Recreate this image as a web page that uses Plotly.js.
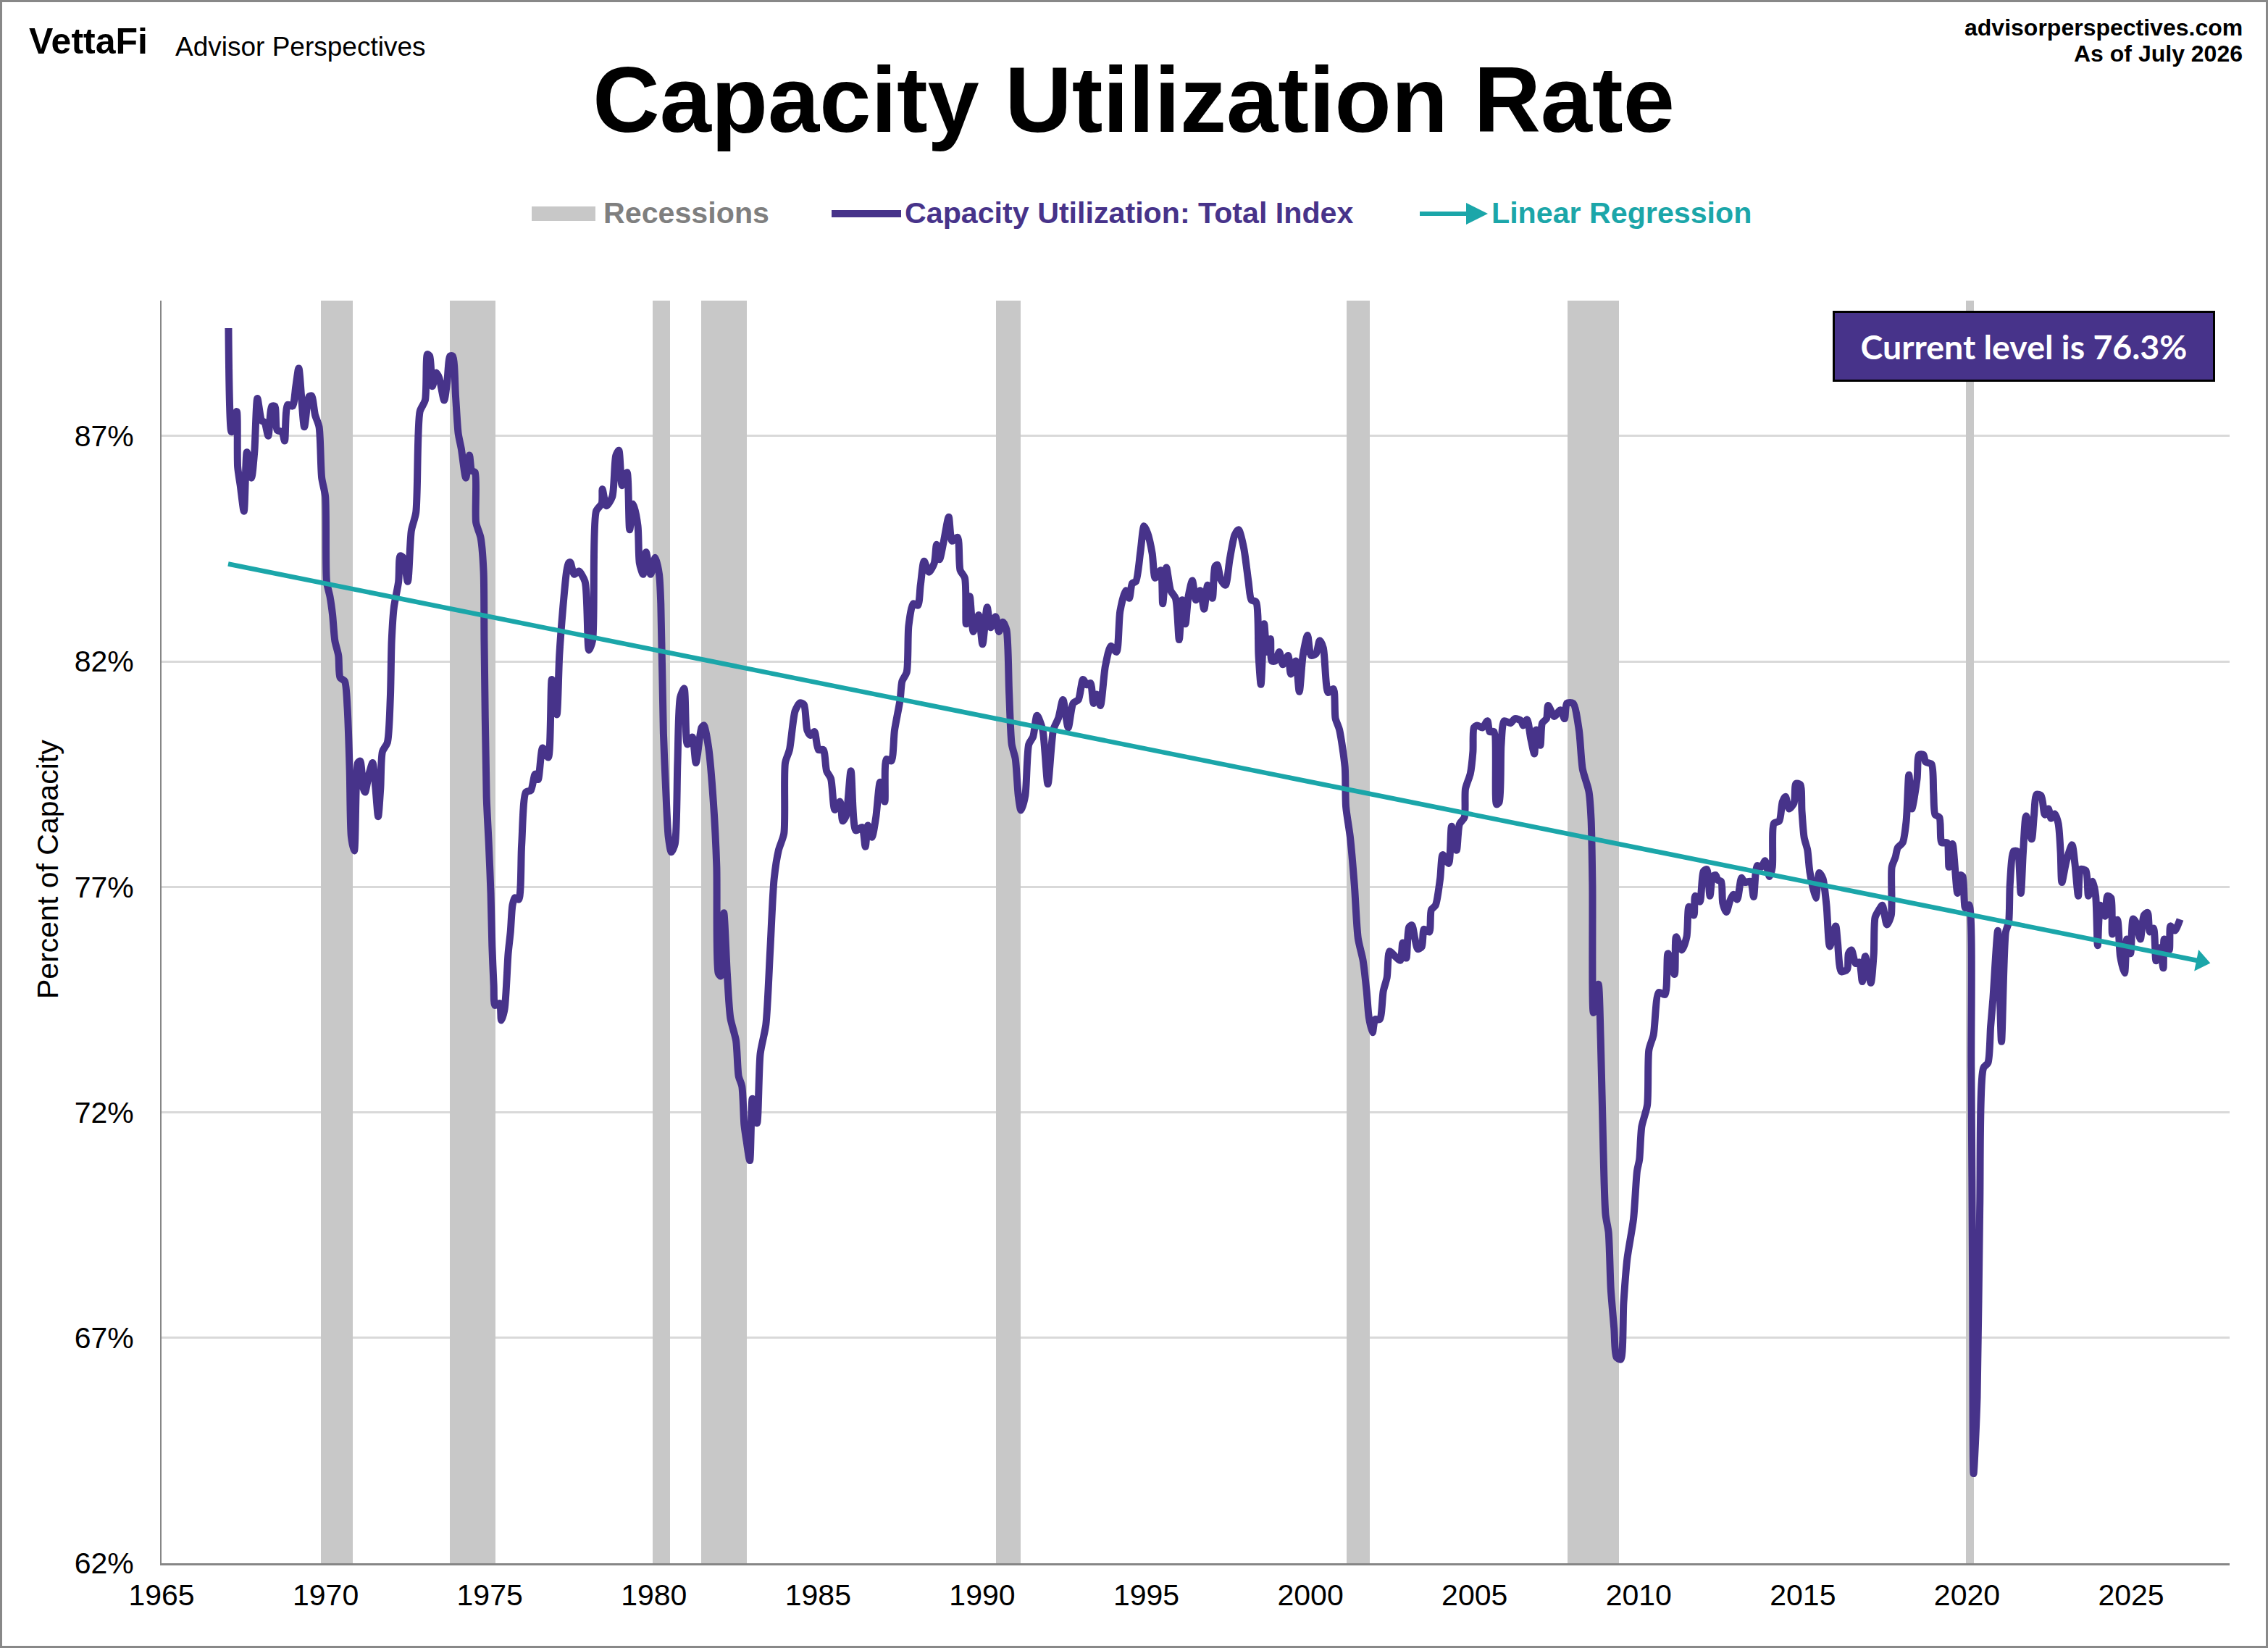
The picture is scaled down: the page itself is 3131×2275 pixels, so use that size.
<!DOCTYPE html>
<html><head><meta charset="utf-8">
<script src="https://cdn.plot.ly/plotly-3.0.1.min.js"></script>
<style>
html,body{margin:0;padding:0;background:#fff;overflow:hidden}
#chart{position:absolute;left:0;top:0;width:3131px;height:2275px}
#frame{position:absolute;left:0;top:0;width:3131px;height:2275px;box-sizing:border-box;border:3px solid #888;pointer-events:none}
</style></head><body>
<div id="chart"></div><div id="frame"></div>
<script>
const capYears = [
1967.04,1967.13,1967.29,1967.32,1967.40,1967.51,1967.60,1967.74,1967.83,1967.92,1968.05,1968.14,1968.25,1968.36,1968.45,1968.52,1968.67,1968.75,1968.84,1968.99,
1969.09,1969.18,1969.35,1969.49,1969.57,1969.68,1969.80,1969.88,1969.99,1970.03,1970.13,1970.21,1970.28,1970.39,1970.44,1970.58,1970.66,1970.73,1970.78,1970.87,
1970.93,1970.98,1971.05,1971.15,1971.20,1971.32,1971.43,1971.52,1971.60,1971.67,1971.73,1971.88,1971.97,1972.01,1972.08,1972.22,1972.27,1972.36,1972.50,1972.61,
1972.75,1972.87,1973.03,1973.10,1973.17,1973.25,1973.37,1973.46,1973.61,1973.70,1973.79,1973.87,1973.96,1974.04,1974.13,1974.27,1974.38,1974.45,1974.55,1974.58,
1974.72,1974.81,1974.83,1974.90,1974.97,1975.03,1975.07,1975.12,1975.16,1975.30,1975.35,1975.45,1975.56,1975.63,1975.69,1975.76,1975.88,1975.97,1976.10,1976.25,
1976.38,1976.47,1976.61,1976.78,1976.89,1977.04,1977.12,1977.23,1977.34,1977.40,1977.45,1977.57,1977.71,1977.90,1978.02,1978.13,1978.24,1978.41,1978.43,1978.55,
1978.73,1978.84,1978.93,1979.03,1979.18,1979.26,1979.37,1979.51,1979.56,1979.67,1979.76,1979.90,1980.04,1980.16,1980.21,1980.29,1980.36,1980.44,1980.53,1980.64,
1980.72,1980.80,1980.92,1981.02,1981.17,1981.28,1981.45,1981.52,1981.66,1981.81,1981.91,1981.96,1982.03,1982.13,1982.23,1982.33,1982.50,1982.58,1982.68,1982.75,
1982.82,1982.92,1983.00,1983.14,1983.24,1983.41,1983.54,1983.66,1983.80,1983.96,1984.00,1984.13,1984.30,1984.45,1984.57,1984.67,1984.77,1984.89,1985.01,1985.16,
1985.26,1985.39,1985.51,1985.67,1985.75,1985.85,1986.00,1986.15,1986.34,1986.44,1986.52,1986.64,1986.76,1986.89,1987.03,1987.08,1987.23,1987.33,1987.50,1987.56,
1987.70,1987.76,1987.90,1988.04,1988.12,1988.23,1988.38,1988.54,1988.61,1988.70,1988.83,1988.98,1989.08,1989.25,1989.33,1989.47,1989.51,1989.62,1989.73,1989.89,
1990.01,1990.15,1990.26,1990.41,1990.51,1990.63,1990.74,1990.82,1990.90,1991.01,1991.10,1991.18,1991.31,1991.42,1991.55,1991.67,1991.84,1992.00,1992.17,1992.32,
1992.46,1992.62,1992.77,1992.93,1993.07,1993.19,1993.30,1993.39,1993.49,1993.60,1993.75,1993.92,1994.09,1994.20,1994.37,1994.48,1994.57,1994.68,1994.82,1994.93,
1995.04,1995.18,1995.27,1995.44,1995.50,1995.61,1995.74,1995.89,1996.00,1996.09,1996.19,1996.28,1996.40,1996.51,1996.64,1996.76,1996.87,1997.01,1997.09,1997.16,
1997.27,1997.41,1997.54,1997.69,1997.81,1997.97,1998.11,1998.20,1998.34,1998.42,1998.49,1998.59,1998.67,1998.78,1998.82,1998.93,1999.05,1999.16,1999.32,1999.40,
1999.55,1999.66,1999.77,1999.91,2000.02,2000.17,2000.28,2000.39,2000.54,2000.70,2000.76,2000.88,2001.05,2001.08,2001.21,2001.34,2001.45,2001.60,2001.71,2001.78,
2001.89,2001.97,2002.11,2002.22,2002.33,2002.41,2002.59,2002.74,2002.81,2002.92,2003.00,2003.09,2003.18,2003.27,2003.39,2003.46,2003.62,2003.68,2003.81,2003.95,
2004.03,2004.21,2004.30,2004.45,2004.54,2004.69,2004.72,2004.87,2004.95,2004.98,2005.08,2005.24,2005.39,2005.46,2005.59,2005.67,2005.75,2005.81,2005.90,2006.09,
2006.23,2006.42,2006.48,2006.60,2006.71,2006.82,2006.87,2007.00,2007.06,2007.19,2007.24,2007.43,2007.61,2007.74,2007.81,2008.00,2008.18,2008.29,2008.48,2008.55,
2008.59,2008.62,2008.77,2008.84,2008.92,2008.99,2009.08,2009.15,2009.25,2009.32,2009.45,2009.54,2009.65,2009.84,2009.95,2010.02,2010.09,2010.26,2010.31,2010.45,
2010.61,2010.80,2010.89,2011.09,2011.14,2011.31,2011.46,2011.53,2011.68,2011.72,2011.86,2011.97,2012.07,2012.17,2012.25,2012.34,2012.41,2012.51,2012.56,2012.67,
2012.78,2012.89,2013.00,2013.13,2013.22,2013.41,2013.50,2013.61,2013.74,2013.85,2013.98,2014.07,2014.12,2014.28,2014.38,2014.47,2014.58,2014.73,2014.79,2014.92,
2014.97,2015.04,2015.14,2015.21,2015.39,2015.50,2015.61,2015.72,2015.82,2016.00,2016.06,2016.17,2016.35,2016.39,2016.48,2016.61,2016.72,2016.81,2016.90,2017.07,
2017.16,2017.20,2017.31,2017.42,2017.56,2017.69,2017.71,2017.82,2017.89,2018.04,2018.15,2018.23,2018.32,2018.48,2018.54,2018.67,2018.74,2018.92,2018.98,2019.03,
2019.16,2019.23,2019.39,2019.45,2019.56,2019.71,2019.80,2019.87,2019.95,2020.06,2020.13,2020.17,2020.20,2020.31,2020.39,2020.50,2020.64,2020.72,2020.79,2020.94,
2021.05,2021.18,2021.27,2021.31,2021.42,2021.53,2021.64,2021.71,2021.80,2021.97,2022.04,2022.12,2022.26,2022.37,2022.48,2022.56,2022.67,2022.78,2022.85,2022.89,
2023.03,2023.20,2023.29,2023.39,2023.46,2023.62,2023.70,2023.83,2023.92,2023.98,2024.06,2024.21,2024.28,2024.39,2024.43,2024.58,2024.67,2024.80,2024.87,2024.98,
2025.06,2025.15,2025.28,2025.39,2025.50,2025.57,2025.68,2025.76,2025.87,2025.98,2026.01,2026.16,2026.20,2026.33,2026.49];
const capValues = [
89.39,87.09,87.54,86.31,85.90,85.33,86.64,86.07,86.64,87.83,87.34,87.30,87.00,87.66,87.66,87.13,87.09,86.89,87.69,87.66,
88.10,88.50,87.20,87.87,87.89,87.46,87.20,86.07,85.66,83.77,83.44,83.03,82.46,82.13,81.64,81.56,80.98,79.59,78.11,77.80,
79.18,79.75,79.79,79.18,79.10,79.50,79.75,79.18,78.56,79.18,80.00,80.20,81.20,82.46,83.20,83.77,84.34,84.30,83.77,84.90,
85.30,87.54,87.79,88.81,88.77,88.10,88.40,88.28,87.79,88.20,88.77,88.77,87.87,87.05,86.72,86.07,86.57,86.23,86.19,85.08,
84.75,84.00,82.46,79.00,77.93,76.86,75.68,74.82,74.37,74.42,74.04,74.29,75.52,76.00,76.59,76.76,76.72,77.93,79.10,79.14,
79.50,79.38,80.08,79.87,81.60,80.82,82.13,83.20,84.00,84.18,84.20,83.93,84.00,83.77,82.25,82.46,85.33,85.50,85.82,85.45,
85.65,86.56,86.68,85.90,86.19,84.92,85.49,85.00,84.18,83.93,84.42,83.93,84.30,83.93,83.28,80.40,79.18,78.11,77.77,77.95,
79.75,81.20,81.40,80.16,80.32,79.75,80.53,80.58,80.11,78.89,77.46,75.09,75.02,76.42,75.09,74.09,73.59,72.80,72.58,71.72,
71.36,70.93,72.30,71.76,73.30,73.94,75.59,77.17,77.82,78.18,79.75,80.04,80.90,81.08,81.04,80.47,80.36,80.44,80.04,80.04,
79.57,79.40,78.71,78.89,78.46,78.57,79.57,78.25,78.32,77.89,78.36,78.10,78.53,79.32,78.89,79.83,79.79,80.47,81.15,81.56,
81.76,82.79,83.28,83.24,83.69,84.22,83.98,84.18,84.59,84.26,84.67,85.20,84.67,84.75,84.02,83.85,82.83,83.44,82.66,83.03,
82.38,83.20,82.75,82.99,82.66,82.87,82.70,81.31,80.16,79.84,79.02,78.70,79.02,80.16,80.33,80.80,80.49,79.28,80.49,80.74,
81.15,80.53,81.07,81.15,81.60,81.48,81.52,81.07,81.27,81.02,81.89,82.34,82.21,83.11,83.57,83.40,83.73,83.77,84.43,85.00,
84.84,84.39,83.85,84.02,83.28,84.08,83.57,83.40,82.48,83.36,82.83,83.44,83.79,83.36,83.57,83.16,83.69,83.40,84.10,84.14,
83.81,83.69,84.26,84.80,84.92,84.51,83.77,83.36,83.32,82.13,81.49,82.83,82.21,82.50,82.01,82.01,82.21,81.93,82.13,81.72,
82.01,81.33,82.13,82.58,82.13,82.17,82.46,82.30,81.31,81.39,80.74,80.49,79.66,78.78,78.10,77.03,75.86,75.37,74.69,74.11,
73.77,74.06,74.06,74.69,74.99,75.57,75.45,75.37,75.76,75.42,76.10,76.15,75.86,75.62,75.67,76.06,76.00,76.49,76.59,77.18,
77.71,77.52,78.34,77.81,78.39,78.54,79.17,79.51,80.00,80.53,80.58,80.53,80.68,80.44,80.44,78.83,78.88,80.14,80.68,80.63,
80.73,80.68,80.58,80.71,80.29,79.95,80.48,80.14,80.63,80.73,81.02,80.78,80.92,80.73,81.07,81.07,80.48,79.61,79.12,78.49,
77.03,74.21,74.84,73.62,71.19,69.73,69.34,68.08,67.20,66.57,66.52,67.78,68.76,69.63,70.70,70.95,71.68,72.16,73.38,73.72,
74.66,74.61,75.52,75.06,75.89,75.60,75.89,76.56,76.37,76.80,76.67,77.34,77.39,76.80,77.23,77.26,77.15,77.12,76.64,76.44,
76.69,76.83,76.72,77.20,77.10,77.12,76.78,77.47,77.44,77.58,77.23,77.44,78.41,78.46,78.89,79.00,78.73,78.86,79.29,79.27,
78.68,78.09,77.82,77.34,76.75,77.31,77.18,76.59,75.68,76.13,75.76,75.12,75.17,75.52,75.60,75.30,75.33,74.90,75.46,74.87,
75.52,76.32,76.48,76.59,76.16,76.37,77.44,77.66,77.87,77.98,78.46,79.48,78.73,79.40,79.93,79.93,79.77,79.72,79.10,78.60,
78.54,77.98,77.98,77.44,77.95,76.86,77.26,77.23,76.53,76.60,72.98,68.19,63.99,65.67,69.87,72.98,73.10,73.90,74.50,76.03,
73.57,76.00,76.21,77.07,77.79,77.79,76.86,77.77,78.57,78.06,78.57,79.05,79.02,78.60,78.73,78.52,78.62,78.41,77.77,77.10,
77.58,77.93,77.50,76.80,77.39,77.36,76.80,77.12,76.80,75.70,76.59,76.35,76.80,76.75,75.95,76.27,75.46,75.09,75.84,75.52,
76.29,76.21,75.84,76.37,76.43,76.00,76.08,75.36,75.65,75.20,75.84,75.60,76.13,76.03,76.28];
const recessionStarts = [1969.86,1973.79,1979.95,1981.45,1990.43,2001.09,2007.84,2019.97];
const recessionEnds   = [1970.82,1975.17,1980.50,1982.84,1991.16,2001.81,2009.40,2020.22];
const regressionYears = [1967.03,2027.13];
const regressionValues = [84.16,75.35];
const xTickYears = [1965,1970,1975,1980,1985,1990,1995,2000,2005,2010,2015,2020,2025];
const yTickValues = [62,67,72,77,82,87];
const yTickLabels = ['62%','67%','72%','77%','82%','87%'];
const titleText = 'Capacity Utilization Rate';
const legendNames = ['Recessions','Capacity Utilization: Total Index','Linear Regression'];
const currentLabel = 'Current level is 76.3%';

const PURPLE='#47338a', TEAL='#1ba6a9', GREY='#c8c8c8', GREYTXT='#7f7f7f';
const L=223,R=53,T=415,B=117,W=3131-L-R,H=2275-T-B;
const px=v=>(v-L)/W, py=v=>(2275-B-v)/H;
const FONT='"Liberation Sans", Arial, sans-serif';
function label(text,x,y,size,o={}){
  return Object.assign({text,xref:'paper',yref:'paper',x:px(x),y:py(y),showarrow:false,xanchor:'left',yanchor:'middle',
    font:{family:FONT,size,color:o.color||'#000'}},o.extra||{});
}
const traces=[
 {type:'bar',name:legendNames[0],x:recessionStarts,width:recessionEnds.map((e,i)=>e-recessionStarts[i]),offset:0,
  y:recessionStarts.map(()=>28),base:62,marker:{color:GREY,line:{width:0}},showlegend:false,hoverinfo:'skip'},
 {type:'scatter',mode:'lines',name:legendNames[1],x:capYears,y:capValues,line:{color:PURPLE,width:10,shape:'spline',smoothing:0.7},showlegend:false,hoverinfo:'skip'},
 {type:'scatter',mode:'lines+markers',name:legendNames[2],x:regressionYears,y:regressionValues,line:{color:TEAL,width:6.5},
  marker:{symbol:'triangle-up',angleref:'previous',size:[0,26],opacity:1,color:TEAL,line:{width:0}},showlegend:false,hoverinfo:'skip'}
];
const layout={
 width:3131,height:2275,autosize:false,paper_bgcolor:'#fff',plot_bgcolor:'#fff',showlegend:false,hovermode:false,bargap:0,
 margin:{l:L,r:R,t:T,b:B,pad:0},
 font:{family:FONT,color:'#000',size:41},
 title:{text:'<b>'+titleText+'</b>',x:1565/3131,xanchor:'center',y:1-137/2275,yanchor:'middle',font:{family:FONT,size:128,color:'#000'}},
 xaxis:{range:[1965,2028],tickmode:'array',tickvals:xTickYears,ticktext:xTickYears.map(String),showgrid:false,zeroline:false,
  showline:true,linecolor:'#868686',linewidth:3,ticks:'',tickfont:{family:FONT,size:41,color:'#000'},ticklabelstandoff:6},
 yaxis:{range:[62,90],tickmode:'array',tickvals:yTickValues,ticktext:yTickLabels,showgrid:true,gridcolor:'#d9d9d9',gridwidth:3,zeroline:false,
  showline:true,linecolor:'#868686',linewidth:2,ticks:'',tickfont:{family:FONT,size:41,color:'#000'},ticklabelstandoff:28},
 shapes:[
  {type:'rect',xref:'paper',yref:'paper',x0:px(734),x1:px(822),y0:py(305),y1:py(285),fillcolor:GREY,line:{width:0}},
  {type:'line',xref:'paper',yref:'paper',x0:px(1148),x1:px(1244),y0:py(295),y1:py(295),line:{color:PURPLE,width:10}},
  {type:'line',xref:'paper',yref:'paper',x0:px(1960),x1:px(2034),y0:py(295),y1:py(295),line:{color:TEAL,width:6}}
 ],
 annotations:[
  label('<b>VettaFi</b>',38,57,50),
  label('Advisor Perspectives',240,64,37),
  label('<b>advisorperspectives.com</b>',3098,38,32,{extra:{xanchor:'right'}}),
  label('<b>As of July 2026</b>',3098,74,32,{extra:{xanchor:'right'}}),
  label('<b>'+legendNames[0]+'</b>',831,294,41.2,{color:GREYTXT}),
  label('<b>'+legendNames[1]+'</b>',1247,294,41.2,{color:PURPLE}),
  label('<b>'+legendNames[2]+'</b>',2057,294,41.2,{color:TEAL}),
  {text:'',xref:'paper',yref:'paper',x:px(2054),y:py(295),axref:'pixel',ayref:'pixel',ax:-30,ay:0,showarrow:true,arrowhead:2,arrowsize:1,arrowwidth:6,arrowcolor:TEAL},
  {text:'<b>'+currentLabel+'</b>',xref:'paper',yref:'paper',x:px(2794),y:py(478),xanchor:'center',yanchor:'middle',showarrow:false,
   width:522,height:92,align:'center',valign:'middle',bgcolor:PURPLE,bordercolor:'#000',borderwidth:3,borderpad:0,
   font:{family:'Lato, sans-serif',size:46.5,color:'#fff'}},
  {text:'Percent of Capacity',xref:'paper',yref:'paper',x:px(66),y:py(1200),xanchor:'center',yanchor:'middle',textangle:-90,showarrow:false,
   font:{family:FONT,size:41,color:'#000'}}
 ]
};
Plotly.newPlot('chart',traces,layout,{staticPlot:true,displayModeBar:false,responsive:false});
</script></body></html>
